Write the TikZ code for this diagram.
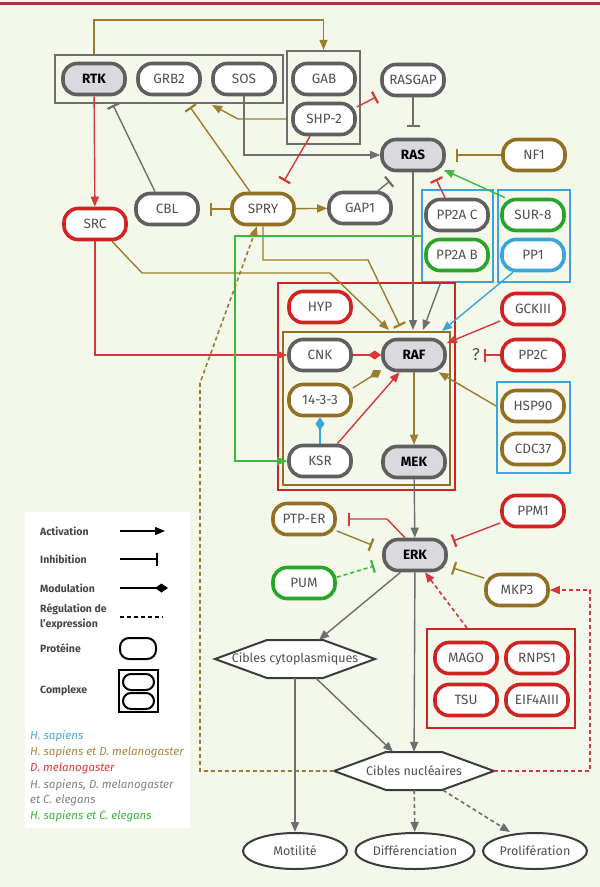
\documentclass[tikz,border=0pt]{standalone}
\usepackage{fontspec}
\setmainfont{Fira Sans}
\usetikzlibrary{arrows.meta,shapes.geometric}
\definecolor{bgc}{RGB}{243,248,235}
\definecolor{topbar}{RGB}{160,55,75}
\definecolor{cgray}{RGB}{95,95,95}
\definecolor{cred}{RGB}{210,35,35}
\definecolor{cgold}{RGB}{145,112,35}
\definecolor{cgreen}{RGB}{40,165,40}
\definecolor{cblue}{RGB}{60,165,215}
\definecolor{lgray}{RGB}{110,110,110}
\definecolor{lred}{RGB}{215,55,55}
\definecolor{lgold}{RGB}{155,125,45}
\definecolor{lgreen}{RGB}{60,185,60}
\definecolor{lblue}{RGB}{60,165,215}
\definecolor{keyfill}{RGB}{218,218,222}
\definecolor{txt}{RGB}{80,80,80}
\definecolor{ltxt}{RGB}{70,70,70}
\definecolor{darkline}{RGB}{60,60,60}
\definecolor{spblue}{RGB}{70,170,220}
\definecolor{spgold}{RGB}{165,135,65}
\definecolor{spred}{RGB}{220,60,60}
\definecolor{spgray}{RGB}{130,130,130}
\definecolor{spgreen}{RGB}{60,180,60}
\begin{document}
\begin{tikzpicture}[x=1pt,y=-1pt,
  prot/.style={draw, rounded corners=14pt, minimum width=62pt, minimum height=31pt, line width=3.6pt, fill=white, text=txt, font=\fontsize{13.5}{15}\selectfont, inner sep=1pt},
  pgray/.style={prot, draw=cgray},
  pred/.style={prot, draw=cred},
  pgold/.style={prot, draw=cgold},
  pgreen/.style={prot, draw=cgreen},
  pblue/.style={prot, draw=cblue},
  keyp/.style={prot, draw=cgray, fill=keyfill, text=black, font=\fontsize{13.5}{15}\selectfont\bfseries},
  cbox/.style={draw, line width=2.2pt, inner sep=0pt},
  act/.style={-{Triangle[length=10pt,width=8pt]}, line width=1.4pt},
  inh/.style={-{Bar[width=13pt,line width=2.2pt]}, line width=1.4pt},
  modl/.style={-{Diamond[length=13pt,width=9pt]}, line width=1.4pt},
  dsh/.style={dash pattern=on 4pt off 3pt, line width=1.6pt},
  hex/.style={draw=darkline, fill=white, line width=2pt, line join=miter},
  hexl/.style={inner sep=0pt, minimum width=160pt, minimum height=38pt, font=\fontsize{12.5}{14}\selectfont, text=txt},
  outc/.style={ellipse, draw=darkline, fill=white, line width=2pt, minimum width=104pt, minimum height=36pt, inner sep=0pt, font=\fontsize{12.5}{14}\selectfont, text=txt},
  lgtxt/.style={anchor=west, font=\fontsize{10.5}{15.5}\selectfont\bfseries, text=ltxt, inner sep=0pt},
  sptxt/.style={anchor=west, font=\fontsize{11.5}{13}\selectfont\itshape, inner sep=0pt}
]
\fill[bgc] (0,0) rectangle (600,887);
\useasboundingbox (0,0) rectangle (600,887);
\draw[topbar, line width=3pt] (0,3.5) -- (600,3.5);

% legend background
\fill[white] (25,512) rectangle (190,828);

% complexes
\node[cbox, draw=lgray, minimum width=228pt, minimum height=48pt] (grbbox) at (169,79) {};
\node[cbox, draw=lgray, minimum width=73pt, minimum height=93pt] (gabbox) at (323.5,97.5) {};
\node[cbox, draw=cblue, line width=2pt, minimum width=71pt, minimum height=92pt] (pp2abox) at (457.5,236) {};
\node[cbox, draw=cblue, line width=2pt, minimum width=72pt, minimum height=92pt] (sur8box) at (534,236) {};
\node[cbox, draw=cred, line width=2pt, minimum width=177pt, minimum height=207pt] (redbox) at (366.5,386.5) {};
\node[cbox, draw=cgold, line width=2pt, minimum width=167pt, minimum height=153pt] (goldbox) at (366.5,408.5) {};
\node[cbox, draw=cblue, line width=2pt, minimum width=73pt, minimum height=91pt] (hspbox) at (533.5,427.5) {};
\node[cbox, draw=cred, line width=2pt, minimum width=148pt, minimum height=99pt] (magobox) at (501,678.5) {};

% proteins
\node[keyp] (rtk) at (94,79) {RTK};
\node[pgray] (grb2) at (169,79) {GRB2};
\node[pgray] (sos) at (244,79) {SOS};
\node[pgray] (gab) at (324,79) {GAB};
\node[pgray] (shp2) at (324,119) {SHP-2};
\node[pgray] (rasgap) at (413,80) {RASGAP};
\node[keyp] (ras) at (413,155) {RAS};
\node[pgold] (nf1) at (534,155) {NF1};
\node[pgray] (cbl) at (167,209) {CBL};
\node[pgold] (spry) at (263,209) {SPRY};
\node[pgray] (gap1) at (360,208) {GAP1};
\node[pred] (src) at (95,224) {SRC};
\node[pgray] (pp2ac) at (457,215) {PP2A C};
\node[pgreen] (pp2ab) at (457,255) {PP2A B};
\node[pgreen] (sur8) at (533,215) {SUR-8};
\node[pblue] (pp1) at (533,255) {PP1};
\node[pred] (hyp) at (320,307) {HYP};
\node[pgray] (cnk) at (320,355) {CNK};
\node[keyp] (raf) at (414,355) {RAF};
\node[pgold] (n1433) at (320,400) {14-3-3};
\node[pgray] (ksr) at (320,461) {KSR};
\node[keyp] (mek) at (414,462) {MEK};
\node[pred] (gckiii) at (533,309) {GCKIII};
\node[pred] (pp2c) at (533,355) {PP2C};
\node[pgold] (hsp90) at (533,406) {HSP90};
\node[pgold] (cdc37) at (533,449) {CDC37};
\node[pgold] (ptper) at (304,519) {PTP-ER};
\node[keyp] (erk) at (415,555) {ERK};
\node[pred] (ppm1) at (533,511) {PPM1};
\node[pgreen] (pum) at (304,583) {PUM};
\node[pgold] (mkp3) at (517,590) {MKP3};
\node[pred] (mago) at (466,658) {MAGO};
\node[pred] (rnps1) at (537,658) {RNPS1};
\node[pred] (tsu) at (466,700) {TSU};
\node[pred] (eif) at (537,700) {EIF4AIII};
\node[font=\fontsize{17}{19}\selectfont, text=txt, inner sep=0pt] (qm) at (476,355) {?};

% targets
\draw[hex] (215,659) -- (267,640) -- (323,640) -- (375,659) -- (323,678) -- (267,678) -- cycle;
\node[hexl] (cyto) at (295,659) {Cibles cytoplasmiques};
\draw[hex] (334,771) -- (386,752) -- (442,752) -- (494,771) -- (442,790) -- (386,790) -- cycle;
\node[hexl] (nuc) at (414,771) {Cibles nucléaires};
\node[outc] (motil) at (295,851) {Motilité};
\node[outc] (diff) at (415,851) {Différenciation};
\node[outc] (prolif) at (535,851) {Prolifération};

% helper coordinates
\coordinate (topy) at (0,20);
\coordinate (cblT) at (113,105);
\coordinate (spryT) at (190,107);
\coordinate (shpA1) at (238,119);
\coordinate (shpA2) at (212,105);
\coordinate (shpT1) at (376,97);
\coordinate (shpT2) at (284,181);
\coordinate (gapT) at (390,181);
\coordinate (pp2cT) at (436,179);
\coordinate (surA) at (444,170);
\coordinate (rafy) at (0,330);
\coordinate (pp1A) at (442,331);
\coordinate (srcB1) at (142,273);
\coordinate (srcB2) at (330,273);
\coordinate (srcA) at (389,330);
\coordinate (spB2) at (368,260);
\coordinate (spT) at (400,326);
\coordinate (gx) at (235,0);
\coordinate (dk1) at (200,383);
\coordinate (rx) at (590,0);
\coordinate (pumT) at (374,566);
\coordinate (ptpT) at (372,545);
\coordinate (erkR1) at (387,519);
\coordinate (ppmT) at (453,541);
\coordinate (mkpT) at (453,568);

% connectors
\draw[act, lgold] (rtk |- grbbox.north) -- (rtk |- topy) -| (gabbox.north);
\draw[act, lred] (rtk) -- (src);
\draw[inh, lgray] ([xshift=-12pt]cbl.north) -- (cblT);
\draw[inh, lgold] ([xshift=-13pt]spry.north) -- (spryT);
\draw[act, lgold] (shp2.west -| gabbox.west) -- (shpA1) -- (shpA2);
\draw[act, lgray] (sos.south) |- (ras.west);
\draw[inh, lred] (shp2.20) -- (shpT1);
\draw[inh, lred] ([xshift=-14pt]shp2.south) -- (shpT2);
\draw[inh, lgray] (rasgap) -- ([yshift=11pt]ras.north);
\draw[inh, lgold] (nf1) -- ([xshift=10pt]ras.east);
\draw[inh, lgray] ([xshift=18pt]gap1.north) -- (gapT);
\draw[inh, lgold] (spry) -- ([xshift=10pt]cbl.east);
\draw[act, lgold] (spry) -- (gap1);
\draw[inh, lred] ([xshift=-12pt]pp2ac.north) -- (pp2cT);
\draw[act, lgreen] ([xshift=-28pt]sur8.north) -- (surA);
\draw[act, lgray] (ras) -- (ras |- rafy);
\draw[act, lgray] ([xshift=-17pt]pp2abox.south) -- ([xshift=9pt]raf.north |- rafy);
\draw[act, lblue] ([xshift=-20pt]pp1.south) -- (pp1A);
\draw[act, lred] (gckiii.200) -- (raf.20);
\draw[inh, lred] (pp2c) -- ([xshift=-16pt]pp2c.west);
\draw[act, lgold] (hspbox.west |- hsp90) -- (raf.-35);
\draw[act, lgold] (raf) -- (mek);
\draw[modl, lred] (cnk) -- (raf);
\draw[modl, lgold] (n1433.20) -- (raf.205);
\draw[act, lred] (ksr.45) -- (raf.230);
\draw[modl, lblue] (ksr) -- (n1433);
\draw[act, lred] (src) |- (cnk);
\draw[act, lgold] ([xshift=17pt]src.south) -- (srcB1) -- (srcB2) -- (srcA);
\draw[inh, lgold] (spry) |- (spB2) -- (spT);
\draw[act, lgreen] (pp2abox.west) -| (gx |- ksr) -- (ksr.west);
\draw[act, lgold, dsh] (nuc.west) -| (dk1) -- ([xshift=-6pt]spry.south);
\draw[act, lred, dsh] (nuc.east) -| (rx |- mkp3) -- (mkp3.east);
\draw[act, lred, dsh] ([xshift=-34pt]magobox.north) -- (erk.-60);
\draw[inh, lgreen, dsh] (pum.10) -- (pumT);
\draw[inh, lgold] (ptper.-20) -- (ptpT);
\draw[inh, lred] (erk.120) -- (erkR1) -- ([xshift=11pt]ptper.east);
\draw[inh, lred] (ppm1.200) -- (ppmT);
\draw[inh, lgold] (mkp3.160) -- (mkpT);
\draw[act, lgray] (mek) -- (erk);
\draw[act, lgray] (erk.230) -- ([xshift=24pt]cyto.north);
\draw[act, lgray] (erk) -- (nuc);
\draw[act, lgray] (cyto) -- (motil);
\draw[act, lgray] ([xshift=21pt]cyto.south) -- ([xshift=-21pt]nuc.north);
\draw[act, lgray, dsh] (nuc) -- (diff);
\draw[act, lgray, dsh] ([xshift=29pt]nuc.south) -- ([xshift=-25pt]prolif.north);

% legend
\node[lgtxt] (l1) at (40,531) {Activation};
\coordinate (la1) at (120,531); \coordinate (lb1) at (165,531);
\draw[act, black, line width=1.3pt] (la1) -- (lb1);
\node[lgtxt] (l2) at (40,559) {Inhibition};
\coordinate (la2) at (120,559); \coordinate (lb2) at (158,559);
\draw[inh, black, line width=1.3pt] (la2) -- (lb2);
\node[lgtxt] (l3) at (40,588) {Modulation};
\coordinate (la3) at (120,588); \coordinate (lb3) at (168,588);
\draw[modl, black, line width=1.3pt] (la3) -- (lb3);
\node[lgtxt, align=left] (l4) at (40,617) {Régulation de\\l’expression};
\coordinate (la4) at (120,617); \coordinate (lb4) at (163,617);
\draw[dsh, black, line width=1.5pt] (la4) -- (lb4);
\node[lgtxt] (l5) at (40,648) {Protéine};
\draw[black, line width=2pt, rounded corners=9pt] (120,638) rectangle (156,659);
\node[lgtxt] (l6) at (40,691) {Complexe};
\draw[black, line width=1.8pt] (119,670) rectangle (158,712);
\draw[black, line width=2pt, rounded corners=8pt] (123,674) rectangle (154,690);
\draw[black, line width=2pt, rounded corners=8pt] (123,693) rectangle (154,709);

\node[sptxt, text=spblue] (s1) at (30,736) {H. sapiens};
\node[sptxt, text=spgold] (s2) at (30,752) {H. sapiens et D. melanogaster};
\node[sptxt, text=spred] (s3) at (30,768) {D. melanogaster};
\node[sptxt, text=spgray] (s4) at (30,785) {H. sapiens, D. melanogaster};
\node[sptxt, text=spgray] (s5) at (30,800) {et C. elegans};
\node[sptxt, text=spgreen] (s6) at (30,816) {H. sapiens et C. elegans};
\end{tikzpicture}
\end{document}
